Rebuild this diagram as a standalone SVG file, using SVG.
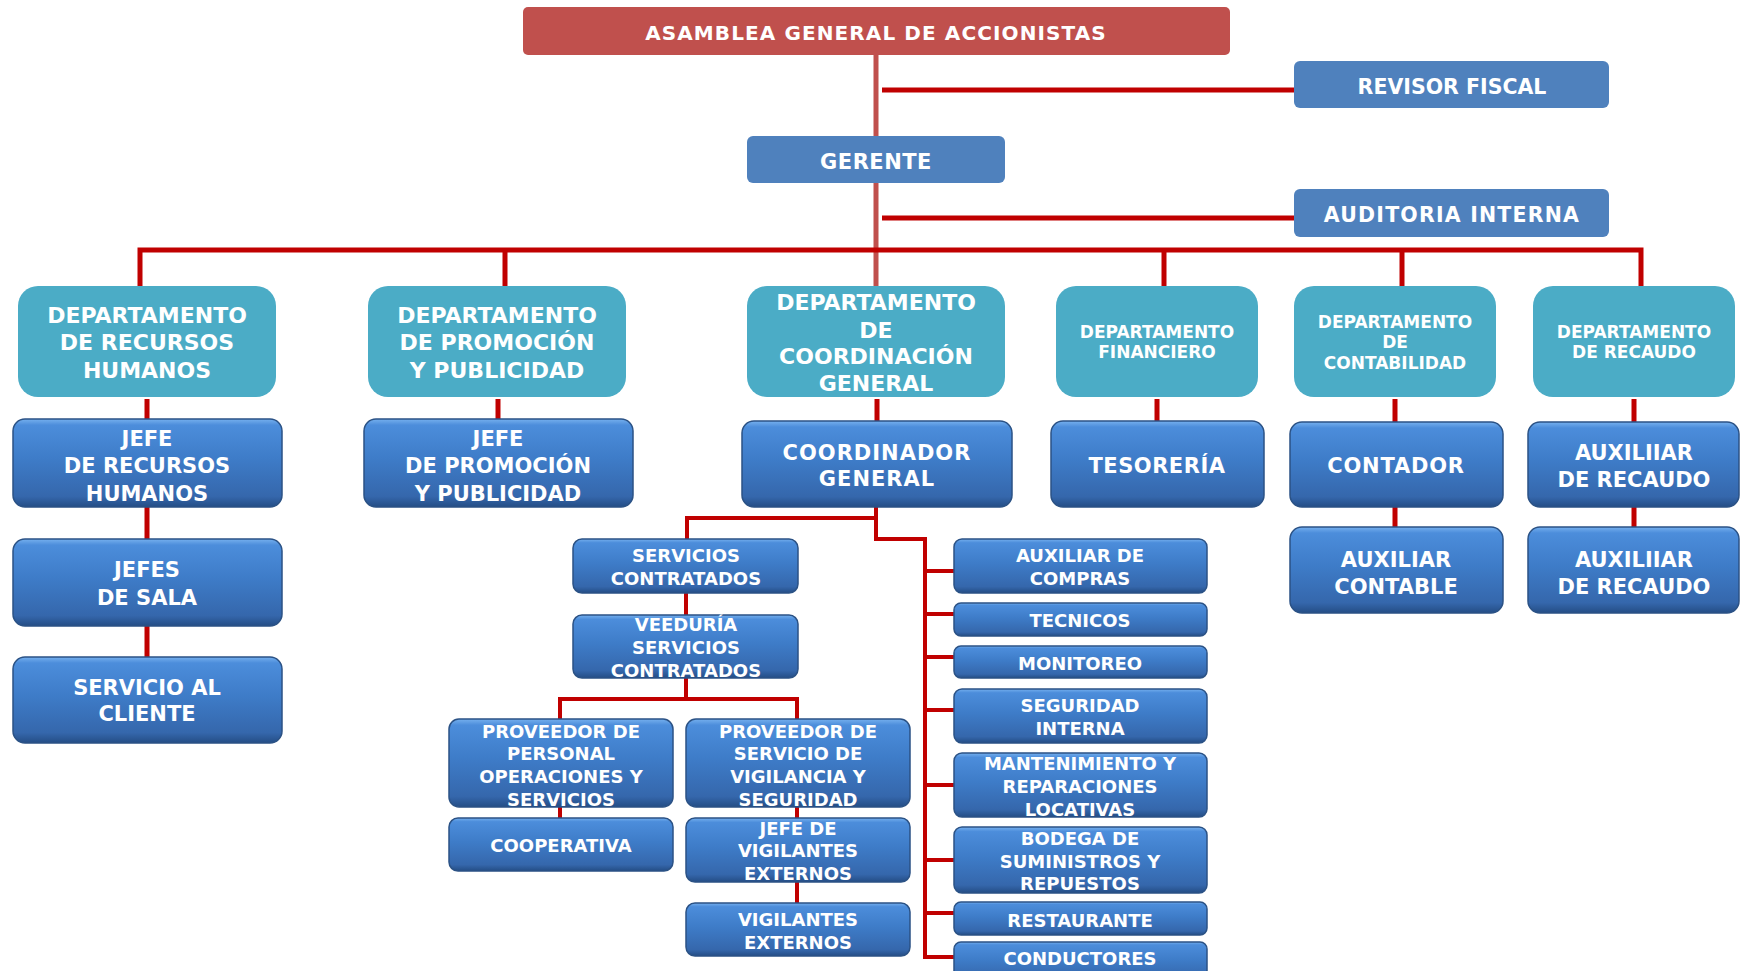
<svg xmlns="http://www.w3.org/2000/svg" width="1740" height="971" viewBox="0 0 1740 971">
<defs>
<linearGradient id="g3d" x1="0" y1="0" x2="0" y2="1">
<stop offset="0" stop-color="#76B0EE"/>
<stop offset="0.07" stop-color="#4C8DDB"/>
<stop offset="0.45" stop-color="#3E7CC8"/>
<stop offset="0.88" stop-color="#3567AC"/>
<stop offset="1" stop-color="#244D85"/>
</linearGradient>
<style>
.flat{fill:#4F81BD}
.red{fill:#C0504D}
.teal{fill:#4BACC6}
.b3{fill:url(#g3d);stroke:#2B5285;stroke-width:1.5}
text{font-family:"DejaVu Sans","Liberation Sans",sans-serif;font-weight:bold;fill:#FFFFFF;text-anchor:middle}
.f22{font-size:22px}
.f21{font-size:21px}
.f18{font-size:18px}
.f17{font-size:17px}
.f20{font-size:20.5px}
.c{fill:none;stroke:#C00000;stroke-width:5;stroke-linecap:butt}
.c4{fill:none;stroke:#C00000;stroke-width:4}
.stem{fill:none;stroke:#C0504D;stroke-width:5}
</style>
</defs>
<g id="connectors">
<path class="stem" d="M876 55 V136 M876 183 V286"/>
<path class="c" d="M882 90 H1294 M882 218 H1294"/>
<path class="c" d="M137.5 250 H1643.5 M140 248 V286 M505 250 V286 M1164 250 V286 M1402 250 V286 M1641 248 V286"/>
<path class="c" d="M147 399 V419 M147 507 V539 M147 626 V657"/>
<path class="c" d="M498 399 V419"/>
<path class="c" d="M877 399 V421"/>
<path class="c" d="M1157 399 V421"/>
<path class="c" d="M1395 399 V422 M1395 507 V527"/>
<path class="c" d="M1634 399 V422 M1634 507 V527"/>
<path class="c4" d="M876 507 V539 H925 V959 M876 518 H687 V539"/>
<path class="c4" d="M925 571 H954 M925 614 H954 M925 657 H954 M925 710 H954 M925 785 H954 M925 860 H954 M925 913 H954 M925 957 H954"/>
<path class="c4" d="M686 593 V615 M686 678 V699 M560 721 V699 H797 V721 M560 807 V818 M797 807 V818 M797 882 V903"/>
</g>

<g id="asamblea"><rect class="red" x="523" y="7" width="707" height="48" rx="5"/>
<text x="876" y="39.5" style="font-size:20px;letter-spacing:1.1px">ASAMBLEA GENERAL DE ACCIONISTAS</text></g>
<g id="revisor"><rect class="flat" x="1294" y="61" width="315" height="47" rx="6"/>
<text class="f20" x="1452" y="93.5">REVISOR FISCAL</text></g>
<g id="gerente"><rect class="flat" x="747" y="136" width="258" height="47" rx="6"/>
<text x="876" y="169" style="font-size:21px;letter-spacing:0.5px">GERENTE</text></g>
<g id="auditoria"><rect class="flat" x="1294" y="189" width="315" height="48" rx="6"/>
<text class="f20" x="1452" y="221.5" style="letter-spacing:1.2px">AUDITORIA INTERNA</text></g>

<g id="dep-rrhh"><rect class="teal" x="18" y="286" width="258" height="111" rx="20"/>
<text class="f22" x="147" y="323">DEPARTAMENTO</text><text class="f22" x="147" y="350">DE RECURSOS</text><text class="f22" x="147" y="378">HUMANOS</text></g>
<g id="dep-promo"><rect class="teal" x="368" y="286" width="258" height="111" rx="20"/>
<text class="f22" x="497" y="323">DEPARTAMENTO</text><text class="f22" x="497" y="350">DE PROMOCIÓN</text><text class="f22" x="497" y="378">Y PUBLICIDAD</text></g>
<g id="dep-coord"><rect class="teal" x="747" y="286" width="258" height="111" rx="20"/>
<text class="f22" x="876" y="310">DEPARTAMENTO</text><text class="f22" x="876" y="338">DE</text><text class="f22" x="876" y="364">COORDINACIÓN</text><text class="f22" x="876" y="391">GENERAL</text></g>
<g id="dep-fin"><rect class="teal" x="1056" y="286" width="202" height="111" rx="20"/>
<text class="f17" x="1157" y="338">DEPARTAMENTO</text><text class="f17" x="1157" y="358">FINANCIERO</text></g>
<g id="dep-cont"><rect class="teal" x="1294" y="286" width="202" height="111" rx="20"/>
<text class="f17" x="1395" y="328">DEPARTAMENTO</text><text class="f17" x="1395" y="348">DE</text><text class="f17" x="1395" y="369">CONTABILIDAD</text></g>
<g id="dep-rec"><rect class="teal" x="1533" y="286" width="202" height="111" rx="20"/>
<text class="f17" x="1634" y="338">DEPARTAMENTO</text><text class="f17" x="1634" y="358">DE RECAUDO</text></g>

<g id="jefe-rrhh"><rect class="b3" x="13" y="419" width="269" height="88" rx="12"/>
<text class="f21" x="147" y="445.5">JEFE</text><text class="f21" x="147" y="472.5">DE RECURSOS</text><text class="f21" x="147" y="500.5">HUMANOS</text></g>
<g id="jefes-sala"><rect class="b3" x="13" y="539" width="269" height="87" rx="12"/>
<text class="f21" x="147" y="576.5">JEFES</text><text class="f21" x="147" y="604.5">DE SALA</text></g>
<g id="servicio-cliente"><rect class="b3" x="13" y="657" width="269" height="86" rx="12"/>
<text class="f21" x="147" y="694.5">SERVICIO AL</text><text class="f21" x="147" y="720.5">CLIENTE</text></g>
<g id="jefe-promo"><rect class="b3" x="364" y="419" width="269" height="88" rx="12"/>
<text class="f21" x="498" y="445.5">JEFE</text><text class="f21" x="498" y="472.5">DE PROMOCIÓN</text><text class="f21" x="498" y="500.5">Y PUBLICIDAD</text></g>
<g id="coordinador"><rect class="b3" x="742" y="421" width="270" height="86" rx="12"/>
<text class="f21" x="877" y="459.5" style="letter-spacing:1px">COORDINADOR</text><text class="f21" x="877" y="485.5" style="letter-spacing:1px">GENERAL</text></g>
<g id="tesoreria"><rect class="b3" x="1051" y="421" width="213" height="86" rx="12"/>
<text class="f21" x="1157" y="472.5" style="letter-spacing:0.5px">TESORERÍA</text></g>
<g id="contador"><rect class="b3" x="1290" y="422" width="213" height="85" rx="12"/>
<text class="f21" x="1396" y="472.5" style="letter-spacing:0.8px">CONTADOR</text></g>
<g id="aux-contable"><rect class="b3" x="1290" y="527" width="213" height="86" rx="12"/>
<text class="f21" x="1396" y="566.5">AUXILIAR</text><text class="f21" x="1396" y="593.5">CONTABLE</text></g>
<g id="aux-recaudo-1"><rect class="b3" x="1528" y="422" width="211" height="85" rx="12"/>
<text class="f21" x="1634" y="459.5">AUXILIIAR</text><text class="f21" x="1634" y="486.5">DE RECAUDO</text></g>
<g id="aux-recaudo-2"><rect class="b3" x="1528" y="527" width="211" height="86" rx="12"/>
<text class="f21" x="1634" y="566.5">AUXILIIAR</text><text class="f21" x="1634" y="593.5">DE RECAUDO</text></g>

<g id="serv-contratados"><rect class="b3" x="573" y="539" width="225" height="54" rx="9"/>
<text class="f18" x="686" y="561.5">SERVICIOS</text><text class="f18" x="686" y="584.5">CONTRATADOS</text></g>
<g id="veeduria"><rect class="b3" x="573" y="615" width="225" height="63" rx="9"/>
<text class="f18" x="686" y="630.5">VEEDURÍA</text><text class="f18" x="686" y="653.5">SERVICIOS</text><text class="f18" x="686" y="676.5">CONTRATADOS</text></g>
<g id="prov-personal"><rect class="b3" x="449" y="719" width="224" height="88" rx="10"/>
<text class="f18" x="561" y="737.5">PROVEEDOR DE</text><text class="f18" x="561" y="759.5">PERSONAL</text><text class="f18" x="561" y="782.5">OPERACIONES Y</text><text class="f18" x="561" y="805.5">SERVICIOS</text></g>
<g id="prov-vigilancia"><rect class="b3" x="686" y="719" width="224" height="88" rx="10"/>
<text class="f18" x="798" y="737.5">PROVEEDOR DE</text><text class="f18" x="798" y="759.5">SERVICIO DE</text><text class="f18" x="798" y="782.5">VIGILANCIA Y</text><text class="f18" x="798" y="805.5">SEGURIDAD</text></g>
<g id="cooperativa"><rect class="b3" x="449" y="818" width="224" height="53" rx="9"/>
<text class="f18" x="561" y="851.5">COOPERATIVA</text></g>
<g id="jefe-vigilantes"><rect class="b3" x="686" y="818" width="224" height="64" rx="9"/>
<text class="f18" x="798" y="834.5">JEFE DE</text><text class="f18" x="798" y="856.5">VIGILANTES</text><text class="f18" x="798" y="879.5">EXTERNOS</text></g>
<g id="vigilantes"><rect class="b3" x="686" y="903" width="224" height="53" rx="9"/>
<text class="f18" x="798" y="925.5">VIGILANTES</text><text class="f18" x="798" y="948.5">EXTERNOS</text></g>

<g id="aux-compras"><rect class="b3" x="954" y="539" width="253" height="54" rx="8"/>
<text class="f18" x="1080" y="561.5">AUXILIAR DE</text><text class="f18" x="1080" y="584.5">COMPRAS</text></g>
<g id="tecnicos"><rect class="b3" x="954" y="603" width="253" height="33" rx="7"/>
<text class="f18" x="1080" y="626.5">TECNICOS</text></g>
<g id="monitoreo"><rect class="b3" x="954" y="646" width="253" height="32" rx="7"/>
<text class="f18" x="1080" y="669.5">MONITOREO</text></g>
<g id="seguridad"><rect class="b3" x="954" y="689" width="253" height="54" rx="8"/>
<text class="f18" x="1080" y="711.5">SEGURIDAD</text><text class="f18" x="1080" y="734.5">INTERNA</text></g>
<g id="mantenimiento"><rect class="b3" x="954" y="753" width="253" height="64" rx="8"/>
<text class="f18" x="1080" y="769.5">MANTENIMIENTO Y</text><text class="f18" x="1080" y="792.5">REPARACIONES</text><text class="f18" x="1080" y="815.5">LOCATIVAS</text></g>
<g id="bodega"><rect class="b3" x="954" y="827" width="253" height="66" rx="8"/>
<text class="f18" x="1080" y="844.5">BODEGA DE</text><text class="f18" x="1080" y="867.5">SUMINISTROS Y</text><text class="f18" x="1080" y="889.5">REPUESTOS</text></g>
<g id="restaurante"><rect class="b3" x="954" y="902" width="253" height="33" rx="7"/>
<text class="f18" x="1080" y="926.5">RESTAURANTE</text></g>
<g id="conductores"><rect class="b3" x="954" y="942" width="253" height="40" rx="7"/>
<text class="f18" x="1080" y="964.5">CONDUCTORES</text></g>
</svg>
